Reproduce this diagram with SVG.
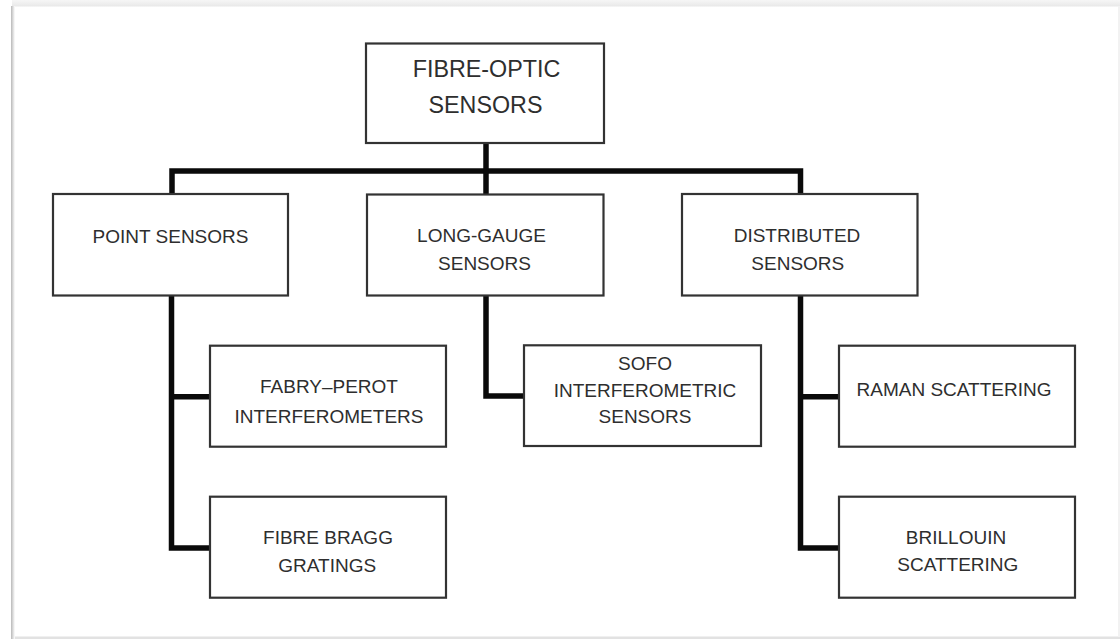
<svg xmlns="http://www.w3.org/2000/svg" width="1120" height="639" viewBox="0 0 1120 639">
<defs>
<linearGradient id="lshadow" x1="0" y1="0" x2="1" y2="0">
<stop offset="0" stop-color="#b8b8b8"/>
<stop offset="1" stop-color="#ffffff"/>
</linearGradient>
<linearGradient id="tshadow" x1="0" y1="0" x2="0" y2="1">
<stop offset="0" stop-color="#f6f6f6"/>
<stop offset="1" stop-color="#e8e8e8"/>
</linearGradient>
<style>
.box{fill:#ffffff;stroke:#333333;stroke-width:2.2}
.t{font-family:"Liberation Sans",Arial,sans-serif;font-size:19px;fill:#2e2e2e;text-anchor:middle}
.big{font-size:23.3px}
.conn{fill:none;stroke:#0a0a0a;stroke-width:5.5;stroke-linejoin:miter;stroke-linecap:butt}
</style>
</defs>
<rect x="0" y="0" width="1120" height="639" fill="#ffffff"/>
<g id="frame">
<rect x="12" y="0" width="1108" height="6.5" fill="url(#tshadow)"/>
<rect x="11" y="6" width="4" height="633" fill="url(#lshadow)"/>
<rect x="15" y="636.5" width="1105" height="2.5" fill="#e2e2e2"/>
<rect x="1118" y="6" width="2" height="631" fill="#f2f2f2"/>
</g>
<g id="connectors">
<path class="conn" d="M172 194 V171 H800.5 V194"/>
<path class="conn" d="M486 143 V194"/>
<path class="conn" d="M171.5 296 V548 H210"/>
<path class="conn" d="M171.5 396.7 H210"/>
<path class="conn" d="M486 296 V396 H524"/>
<path class="conn" d="M800.5 296 V548 H839"/>
<path class="conn" d="M800.5 396.7 H839"/>
</g>
<g id="root">
<rect class="box" x="366" y="43.5" width="238" height="99.5"/>
<text class="t big" x="486.5" y="76.7">FIBRE-OPTIC</text>
<text class="t big" x="485.5" y="113.3">SENSORS</text>
</g>
<g id="point">
<rect class="box" x="53" y="194" width="235" height="101.5"/>
<text class="t" x="170.5" y="243">POINT SENSORS</text>
</g>
<g id="longgauge">
<rect class="box" x="367" y="194.5" width="236.5" height="101"/>
<text class="t" x="481.5" y="241.7">LONG-GAUGE</text>
<text class="t" x="484.5" y="270">SENSORS</text>
</g>
<g id="distributed">
<rect class="box" x="682" y="194" width="235.5" height="101.5"/>
<text class="t" x="797" y="241.7">DISTRIBUTED</text>
<text class="t" x="797.8" y="270">SENSORS</text>
</g>
<g id="fabry">
<rect class="box" x="210" y="345.7" width="236" height="101"/>
<text class="t" x="329" y="393.3">FABRY–PEROT</text>
<text class="t" x="329" y="422.7">INTERFEROMETERS</text>
</g>
<g id="bragg">
<rect class="box" x="210" y="496.7" width="236" height="101"/>
<text class="t" x="328" y="544.3">FIBRE BRAGG</text>
<text class="t" x="327.2" y="571.7">GRATINGS</text>
</g>
<g id="sofo">
<rect class="box" x="524" y="345.3" width="237" height="100.7"/>
<text class="t" x="645" y="370">SOFO</text>
<text class="t" x="645" y="396.7">INTERFEROMETRIC</text>
<text class="t" x="645" y="423">SENSORS</text>
</g>
<g id="raman">
<rect class="box" x="839" y="345.7" width="236" height="101"/>
<text class="t" x="954" y="396">RAMAN SCATTERING</text>
</g>
<g id="brillouin">
<rect class="box" x="839" y="496.7" width="236" height="101"/>
<text class="t" x="956" y="544.3">BRILLOUIN</text>
<text class="t" x="957.8" y="570.7">SCATTERING</text>
</g>
</svg>
